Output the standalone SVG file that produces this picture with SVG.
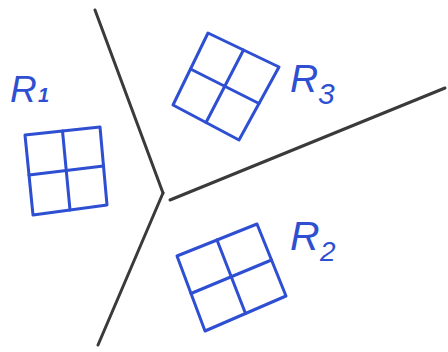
<svg xmlns="http://www.w3.org/2000/svg" width="448" height="352" viewBox="0 0 448 352">
<style>
.bg{fill:#fff}
.edge{stroke:#3a3a3a;stroke-width:3;stroke-linecap:round;fill:none}
.grid{stroke:#2f4fd2;stroke-width:3;stroke-linejoin:round;stroke-linecap:round;fill:none}
.lbl{fill:#2f4fd2;font-family:"Liberation Sans","DejaVu Sans",sans-serif;font-style:italic}
</style>
<rect class="bg" x="0" y="0" width="448" height="352"/>
<g id="connectors">
<line class="edge" x1="95" y1="10" x2="163" y2="193"/>
<line class="edge" x1="163" y1="193" x2="98" y2="345"/>
<line class="edge" x1="170" y1="200" x2="445" y2="88"/>
</g>
<g id="R1">
<polygon class="grid" points="25,135 100,127 107,205 33,215"/>
<line class="grid" x1="62.5" y1="131" x2="70" y2="210"/>
<line class="grid" x1="29" y1="175" x2="103.5" y2="166"/>
<text class="lbl" x="10" y="102" font-size="37">R</text>
<text class="lbl" x="38" y="102" font-size="20" font-weight="bold">1</text>
</g>
<g id="R3">
<polygon class="grid" points="208,33 279,67 239,140 173,105"/>
<line class="grid" x1="243.5" y1="50" x2="206" y2="122.5"/>
<line class="grid" x1="190.5" y1="69" x2="259" y2="103.5"/>
<text class="lbl" x="290" y="92" font-size="39">R</text>
<text class="lbl" x="318" y="104" font-size="30">3</text>
</g>
<g id="R2">
<polygon class="grid" points="177,256 257,224 286,296 205,331"/>
<line class="grid" x1="217" y1="240" x2="245.5" y2="313.5"/>
<line class="grid" x1="191" y1="293.5" x2="271.5" y2="260"/>
<text class="lbl" x="290" y="250" font-size="41">R</text>
<text class="lbl" x="320" y="261" font-size="28">2</text>
</g>
</svg>
